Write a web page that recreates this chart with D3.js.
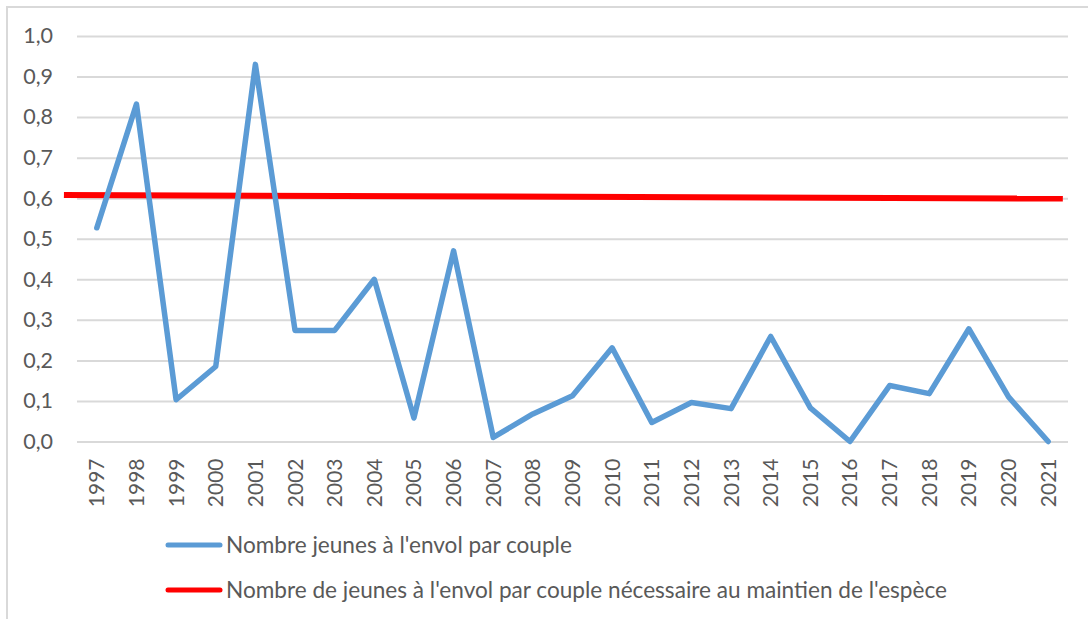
<!DOCTYPE html>
<html>
<head>
<meta charset="utf-8">
<script src="https://cdn.jsdelivr.net/npm/d3@7"></script>
<style>
  html, body { margin: 0; padding: 0; background: #fff; }
  svg { display: block; }
  text { font-family: "Lato", "Liberation Sans", sans-serif; fill: #595959; }
</style>
</head>
<body>
<svg id="chart" width="1088" height="619"></svg>
<script>
// Years on the category axis
const years = [1997, 1998, 1999, 2000, 2001, 2002, 2003, 2004, 2005, 2006, 2007, 2008, 2009,
               2010, 2011, 2012, 2013, 2014, 2015, 2016, 2017, 2018, 2019, 2020, 2021];

// Fledglings per pair, per year
const fledglings = [0.527, 0.832, 0.103, 0.185, 0.930, 0.274, 0.274, 0.400, 0.058, 0.470,
                    0.010, 0.068, 0.113, 0.231, 0.047, 0.096, 0.081, 0.259, 0.083, 0.000,
                    0.138, 0.118, 0.278, 0.110, 0.000];

// Threshold needed to maintain the species (drawn as a straight line across the plot)
const thresholdYears = [1996.17, 2021.37];
const thresholdValues = [0.608, 0.599];

// Value axis ticks
const yTicks = [0, 0.1, 0.2, 0.3, 0.4, 0.5, 0.6, 0.7, 0.8, 0.9, 1.0];

// Legend entries
const legendLabels = ["Nombre jeunes à l'envol par couple",
                      "Nombre de jeunes à l'envol par couple nécessaire au maintien de l'espèce"];
const seriesColors = ["#5b9bd5", "#ff0000"];

const svg = d3.select("#chart");

// Outer chart frame
svg.append("rect")
  .attr("x", 7).attr("y", 7)
  .attr("width", 1200).attr("height", 800)
  .attr("fill", "none")
  .attr("stroke", "#d9d9d9")
  .attr("stroke-width", 2);

const plot = { left: 77, right: 1068, top: 36, bottom: 441.5 };

const x = d3.scaleLinear()
  .domain([years[0] - 0.5, years[years.length - 1] + 0.5])
  .range([plot.left, plot.right]);

const y = d3.scaleLinear()
  .domain([0, 1])
  .range([plot.bottom, plot.top]);

const fmt = v => d3.format(".1f")(v).replace(".", ",");

// Horizontal gridlines
const yAxis = d3.axisLeft(y)
  .tickValues(yTicks)
  .tickSize(-(plot.right - plot.left))
  .tickPadding(24)
  .tickFormat(fmt);

const gy = svg.append("g")
  .attr("transform", `translate(${plot.left},0)`)
  .call(yAxis);
gy.select(".domain").remove();
gy.selectAll(".tick line")
  .attr("stroke", "#d9d9d9")
  .attr("stroke-width", 2);
gy.selectAll(".tick text")
  .attr("font-size", 21.5)
  .attr("fill", "#595959");

// Category axis with rotated year labels
const xAxis = d3.axisBottom(x)
  .tickValues(years)
  .tickSize(0)
  .tickFormat(d => String(d));

const gx = svg.append("g")
  .attr("transform", `translate(0,${plot.bottom})`)
  .call(xAxis);
gx.select(".domain").remove();
gx.selectAll(".tick text")
  .attr("font-size", 21)
  .attr("fill", "#595959")
  .attr("text-anchor", "end")
  .attr("dy", null)
  .attr("y", null)
  .attr("transform", "translate(7,17) rotate(-90)");

// Threshold line
const thresholdData = thresholdYears.map((yr, i) => ({ yr, v: thresholdValues[i] }));
svg.append("path")
  .datum(thresholdData)
  .attr("fill", "none")
  .attr("stroke", seriesColors[1])
  .attr("stroke-width", 6)
  .attr("d", d3.line().x(d => x(d.yr)).y(d => y(d.v)));

// Fledglings series
const series = years.map((yr, i) => ({ yr, v: fledglings[i] }));
svg.append("path")
  .datum(series)
  .attr("fill", "none")
  .attr("stroke", seriesColors[0])
  .attr("stroke-width", 5.5)
  .attr("stroke-linejoin", "round")
  .attr("stroke-linecap", "round")
  .attr("d", d3.line().x(d => x(d.yr)).y(d => y(d.v)));

// Legend
const legend = svg.append("g");
const legendRows = [545, 590];
legendLabels.forEach((label, i) => {
  legend.append("line")
    .attr("x1", 168).attr("x2", 220)
    .attr("y1", legendRows[i]).attr("y2", legendRows[i])
    .attr("stroke", seriesColors[i])
    .attr("stroke-width", 5)
    .attr("stroke-linecap", "round");
  legend.append("text")
    .attr("x", 226)
    .attr("y", legendRows[i] + 7.5)
    .attr("font-size", 22.6)
    .text(label);
});
</script>
</body>
</html>
